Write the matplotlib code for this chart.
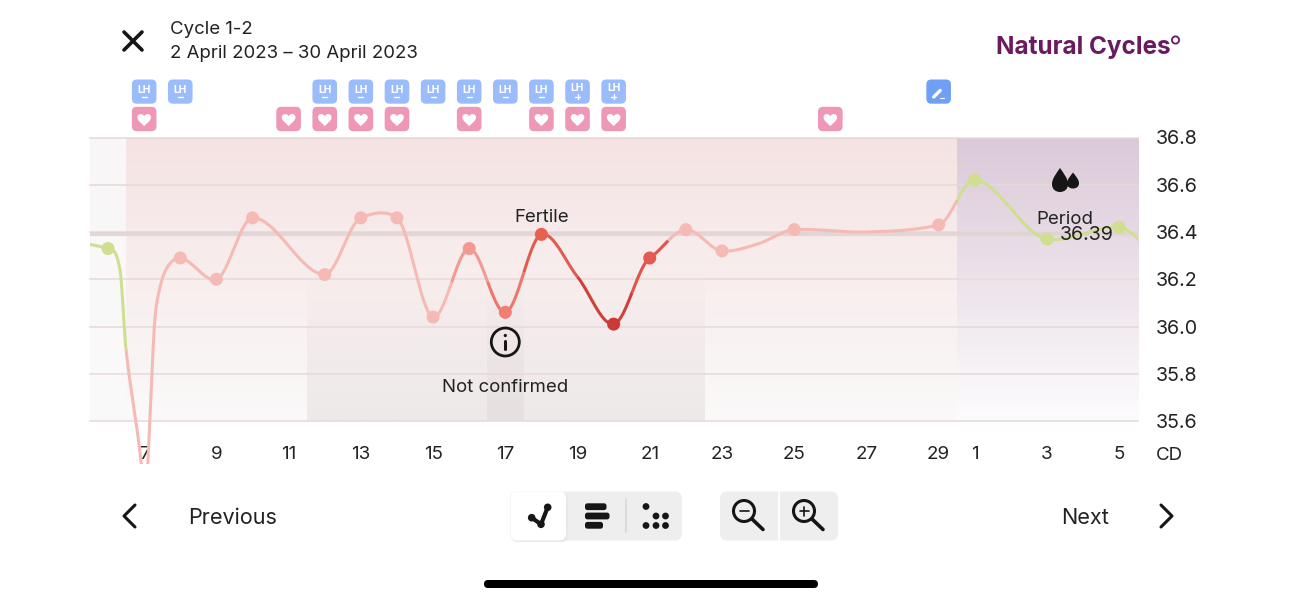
import numpy as np
import matplotlib
matplotlib.use('Agg')
import matplotlib.pyplot as plt
from matplotlib.patches import FancyBboxPatch, Circle, Rectangle, PathPatch
from matplotlib.path import Path

plt.rcParams['font.family'] = ['Inter', 'DejaVu Sans']

# measured temperatures
point_days = [6, 8, 9, 10, 12, 13, 14, 15, 16, 17, 18, 20, 21, 22, 23, 25, 29, 30, 32, 34]
point_temps = [36.33, 36.29, 36.20, 36.46, 36.22, 36.46, 36.46, 36.04, 36.33, 36.06, 36.39,
               36.01, 36.29, 36.41, 36.32, 36.41, 36.43, 36.62, 36.37, 36.42]
point_colours = ['#cfdf8f', '#f6bab5', '#f6bab5', '#f6bab5', '#f6bab5', '#f6bab5', '#f6bab5',
                 '#f6bab5', '#f09a93', '#f27d74', '#e8604f', '#cc3b33', '#e55a50', '#f6bab5',
                 '#f6bab5', '#f6bab5', '#f6bab5', '#cfdf8f', '#cfdf8f', '#cfdf8f']

# the drawn curve
curve_days = [5, 6, 6.33, 6.5, 6.92, 7, 7.1, 7.27, 7.36, 7.6, 8, 9, 10, 12, 13, 14, 15, 16, 17,
              18, 19, 20, 21, 22, 23, 24, 25, 27, 29, 30, 32, 34, 35]
curve_temps = [36.36, 36.33, 36.24, 35.9, 35.42, 35.2, 35.42, 35.97, 36.11, 36.24, 36.29, 36.20,
               36.46, 36.22, 36.46, 36.46, 36.04, 36.33, 36.06, 36.39, 36.21, 36.01, 36.29, 36.41,
               36.32, 36.35, 36.41, 36.40, 36.43, 36.62, 36.37, 36.42, 36.30]
stop_days = [6.5, 15.5, 16.5, 17.5, 19, 20.5, 21.5, 29.5, 35]
stop_colours = ['#cfdf8f', '#f6bab5', '#f09a93', '#f0766c', '#e25c4e', '#cf4038', '#e0544a',
                '#f6bab5', '#cfdf8f']

tick_days = [7, 9, 11, 13, 15, 17, 19, 21, 23, 25, 27, 29, 30, 32, 34]
tick_labels = ['7', '9', '11', '13', '15', '17', '19', '21', '23', '25', '27', '29', '1', '3', '5']
temp_ticks = [35.6, 35.8, 36.0, 36.2, 36.4, 36.6, 36.8]

lh_days = [7, 8, 12, 13, 14, 15, 16, 17, 18, 19, 20]
lh_signs = ['-', '-', '-', '-', '-', '-', '-', '-', '-', '+', '+']
heart_days = [7, 11, 12, 13, 14, 16, 18, 19, 20, 26]
note_day = 29
cover_line = 36.39

TEXT = '#222222'
INK = '#161616'


def smooth(xs, ys, n=40, tension=0.5):
    xs = np.array(xs, float)
    ys = np.array(ys, float)
    m = np.zeros(len(xs))
    m[1:-1] = (ys[2:] - ys[:-2]) / (xs[2:] - xs[:-2])
    m[0] = (ys[1] - ys[0]) / (xs[1] - xs[0])
    m[-1] = (ys[-1] - ys[-2]) / (xs[-1] - xs[-2])
    # the curve tightens at measured days, the other knots stay round
    m[np.isin(xs, point_days)] *= tension
    out_x, out_y = [], []
    for i in range(len(xs) - 1):
        h = xs[i + 1] - xs[i]
        t = np.linspace(0, 1, n)
        out_x.append(xs[i] + h * t)
        out_y.append((2*t**3 - 3*t**2 + 1) * ys[i] + (t**3 - 2*t**2 + t) * h * m[i]
                     + (3*t**2 - 2*t**3) * ys[i + 1] + (t**3 - t**2) * h * m[i + 1])
    return np.concatenate(out_x), np.concatenate(out_y)


def gradient(ax, x0, x1, y_top, y_bottom, top, bottom):
    c0 = np.array(matplotlib.colors.to_rgba(top))
    c1 = np.array(matplotlib.colors.to_rgba(bottom))
    w = np.linspace(0, 1, 128)[:, None]
    img = (c0 + (c1 - c0) * w)[:, None, :]
    ax.imshow(img, extent=(x0, x1, y_bottom, y_top), aspect='auto', zorder=0, interpolation='bilinear')


fig = plt.figure(figsize=(13.01, 6), dpi=100)
ax = fig.add_axes([90 / 1301, 1 - 421 / 600, 1048 / 1301, 283.5 / 600])
x_lim = (5.5, 34.52)
y_lim = (35.6, 36.8)

gradient(ax, x_lim[0], 6.5, 36.8, 35.6, '#f8f6f6', '#fbfafa')
gradient(ax, 6.5, 29.5, 36.8, 35.6, '#f5e3e3', '#fbf9f9')
gradient(ax, 29.5, x_lim[1], 36.8, 35.6, '#dbc9d8', '#fdfcfd')
gradient(ax, 11.5, 22.5, 36.25, 35.6, (0.45, 0.3, 0.3, 0.0), (0.45, 0.3, 0.3, 0.09))
gradient(ax, 16.5, 17.5, 36.25, 35.6, (0.45, 0.3, 0.3, 0.0), (0.45, 0.3, 0.3, 0.06))

ax.set_xlim(*x_lim)
ax.set_ylim(*y_lim)
for s in ax.spines.values():
    s.set_visible(False)
ax.yaxis.tick_right()
ax.set_yticks(temp_ticks)
ax.set_yticklabels(['%.1f' % v for v in temp_ticks])
ax.set_xticks(tick_days)
ax.set_xticklabels(tick_labels)
ax.tick_params(axis='y', length=0, pad=13, labelsize=14.2, labelcolor=TEXT)
ax.tick_params(axis='x', length=0, pad=18, labelsize=13.5, labelcolor=TEXT)
ax.grid(axis='y', color='#e6d9d9', lw=1.1, clip_on=False)
ax.axhline(cover_line, color='#dfd3d3', lw=3, alpha=0.85, zorder=1.6)

clip = Rectangle((x_lim[0], 35.42), x_lim[1] - x_lim[0], 1.5, transform=ax.transData)
cx, cy = smooth(curve_days, curve_temps)
start = curve_days[0]
for end, colour in zip(stop_days, stop_colours):
    first = np.searchsorted(cx, start)
    last = np.searchsorted(cx, end)
    line, = ax.plot(cx[first:last + 1], cy[first:last + 1], color=colour, lw=2.2,
                    solid_capstyle='butt', zorder=3)
    line.set_clip_path(clip)
    start = end
ax.scatter(point_days, point_temps, s=88, c=point_colours, linewidths=0, zorder=4)

# everything else on a pixel canvas
ui = fig.add_axes([0, 0, 1, 1], zorder=5)
ui.set_xlim(0, 1301)
ui.set_ylim(600, 0)
ui.axis('off')
ui.patch.set_visible(False)


def day_px(d):
    return ax.transData.transform((d, 36.0))[0]


def box(x0, y0, x1, y1, colour, r=5, z=2):
    ui.add_patch(FancyBboxPatch((x0, y0), x1 - x0, y1 - y0, boxstyle='round,pad=0,rounding_size=%g' % r,
                                fc=colour, ec='none', zorder=z))


def stroke(xs, ys, lw=2.2, colour=INK, z=3):
    ui.plot(xs, ys, color=colour, lw=lw, solid_capstyle='round', solid_joinstyle='round', zorder=z)


def heart(x, y, s=6.8):
    verts = [(0, 1), (-0.35, 0.6), (-1, 0.25), (-1, -0.3), (-1, -0.8), (-0.3, -1.0), (0, -0.45),
             (0.3, -1.0), (1, -0.8), (1, -0.3), (1, 0.25), (0.35, 0.6), (0, 1), (0, 1)]
    codes = [Path.MOVETO] + [Path.CURVE4] * 12 + [Path.CLOSEPOLY]
    ui.add_patch(PathPatch(Path([(x + s * a, y + s * b) for a, b in verts], codes),
                           fc='white', ec='none', zorder=3))


def drop(x, y, w, h):
    verts = [(0, -h), (0.45 * w, -0.55 * h), (w, -0.15 * h), (w, 0.35 * h), (w, 0.8 * h), (0.5 * w, h),
             (0, h), (-0.5 * w, h), (-w, 0.8 * h), (-w, 0.35 * h), (-w, -0.15 * h), (-0.45 * w, -0.55 * h),
             (0, -h), (0, -h)]
    codes = [Path.MOVETO] + [Path.CURVE4] * 12 + [Path.CLOSEPOLY]
    ui.add_patch(PathPatch(Path([(x + a, y + b) for a, b in verts], codes), fc=INK, ec='none', zorder=3))


for d, sign in zip(lh_days, lh_signs):
    x = day_px(d)
    box(x - 12.3, 79.5, x + 12.3, 103.7, '#9bbcfb')
    if sign == '-':
        ui.text(x, 90, 'LH', color='white', fontsize=7.4, fontweight='bold', ha='center', va='center')
        stroke([x - 2.5, x + 2.5], [96.5, 96.5], lw=1.0, colour='white')
    else:
        ui.text(x, 88, 'LH', color='white', fontsize=7.4, fontweight='bold', ha='center', va='center')
        stroke([x - 2.5, x + 2.5], [96.5, 96.5], lw=1.0, colour='white')
        stroke([x, x], [94, 99], lw=1.0, colour='white')

for d in heart_days:
    x = day_px(d)
    box(x - 12.3, 106.8, x + 12.3, 131.2, '#ef97b6')
    heart(x, 119.3)

x = day_px(note_day)
box(x - 12.3, 79.5, x + 12.3, 103.7, '#6fa0f5')
stroke([x - 5, x + 1.5], [97, 90.5], lw=2.4, colour='white')
stroke([x + 1, x + 5], [97.5, 97.5], lw=0.8, colour='white')

# header
stroke([124, 142], [32, 50], lw=2.6)
stroke([142, 124], [32, 50], lw=2.6)
ui.text(170, 30, 'Cycle 1-2', fontsize=13.4, color=TEXT, ha='left', va='center')
ui.text(170, 54, '2 April 2023 – 30 April 2023', fontsize=13.4, color=TEXT, ha='left', va='center')
ui.text(996, 47.5, 'Natural Cycles', fontsize=17.5, fontweight='bold', color='#6a1b5f', ha='left', va='center')
ui.add_patch(Circle((1175.5, 40), 3.6, fc='none', ec='#6a1b5f', lw=1.3, zorder=3))

# chart notes
ui.text(day_px(18), 218, 'Fertile', fontsize=13.4, color=TEXT, ha='center', va='center')
ui.text(day_px(17), 388, 'Not confirmed', fontsize=13.4, color=TEXT, ha='center', va='center')
ui.text(1065, 219, 'Period', fontsize=13.4, color=TEXT, ha='center', va='center')
ui.text(1087, 235, '36.39', fontsize=14.2, color=TEXT, ha='center', va='center')
ui.text(1169, 455, 'CD', fontsize=13.5, color=TEXT, ha='center', va='center')
drop(1060, 180, 8, 12)
drop(1073, 180.5, 6, 8)
ix = day_px(17)
ui.add_patch(Circle((ix, 342), 14, fc='none', ec=INK, lw=2.0, zorder=3))
stroke([ix, ix], [341, 349], lw=2.2)
ui.add_patch(Circle((ix, 335.5), 1.6, fc=INK, ec='none', zorder=3))

# bottom controls
stroke([135, 124, 135], [505, 516, 527], lw=2.2)
ui.text(188, 518, 'Previous', fontsize=15.6, color=TEXT, ha='left', va='center')
ui.text(1109, 518, 'Next', fontsize=15.6, color=TEXT, ha='right', va='center')
stroke([1161, 1172, 1161], [505, 516, 527], lw=2.2)

box(510, 491.5, 682, 540.5, '#eeeeee', r=7, z=1)
box(511, 493, 568, 542, '#e8e8e8', r=7, z=1.2)
box(510.5, 491.5, 566, 540.5, '#ffffff', r=7, z=1.5)
stroke([531.7, 541, 547.7], [517.7, 524.3, 507.3], lw=3)
for px, py, r in [(531.7, 517.7, 3.8), (541, 524.3, 3.8), (547.7, 507.3, 3.8)]:
    ui.add_patch(Circle((px, py), r, fc=INK, ec='none', zorder=3))
for x1, y in [(606.5, 506.7), (609.5, 516), (603, 525.3)]:
    box(585, y - 3.4, x1, y + 3.4, INK, r=2.5, z=3)
stroke([626, 626], [499, 532], lw=1.2, colour='#d8d8d8')
for px, py in [(646, 506.5), (656, 516), (665.5, 516), (646, 525.5), (656, 525.5), (665.5, 525.5)]:
    ui.add_patch(Circle((px, py), 3.4, fc=INK, ec='none', zorder=3))

box(720, 491.5, 838, 540.5, '#eeeeee', r=7, z=1)
stroke([778.8, 778.8], [491.5, 540.5], lw=1.3, colour='white')
for c in [744, 804]:
    ui.add_patch(Circle((c, 511), 10.5, fc='none', ec=INK, lw=2.2, zorder=3))
    stroke([c + 8, c + 19], [519, 529.5], lw=2.6)
    stroke([c - 4.5, c + 4.5], [511, 511], lw=1.2)
stroke([804, 804], [506.5, 515.5], lw=1.2)

box(484, 580, 818, 588, '#000000', r=4)

fig.savefig('out.png', dpi=100)
